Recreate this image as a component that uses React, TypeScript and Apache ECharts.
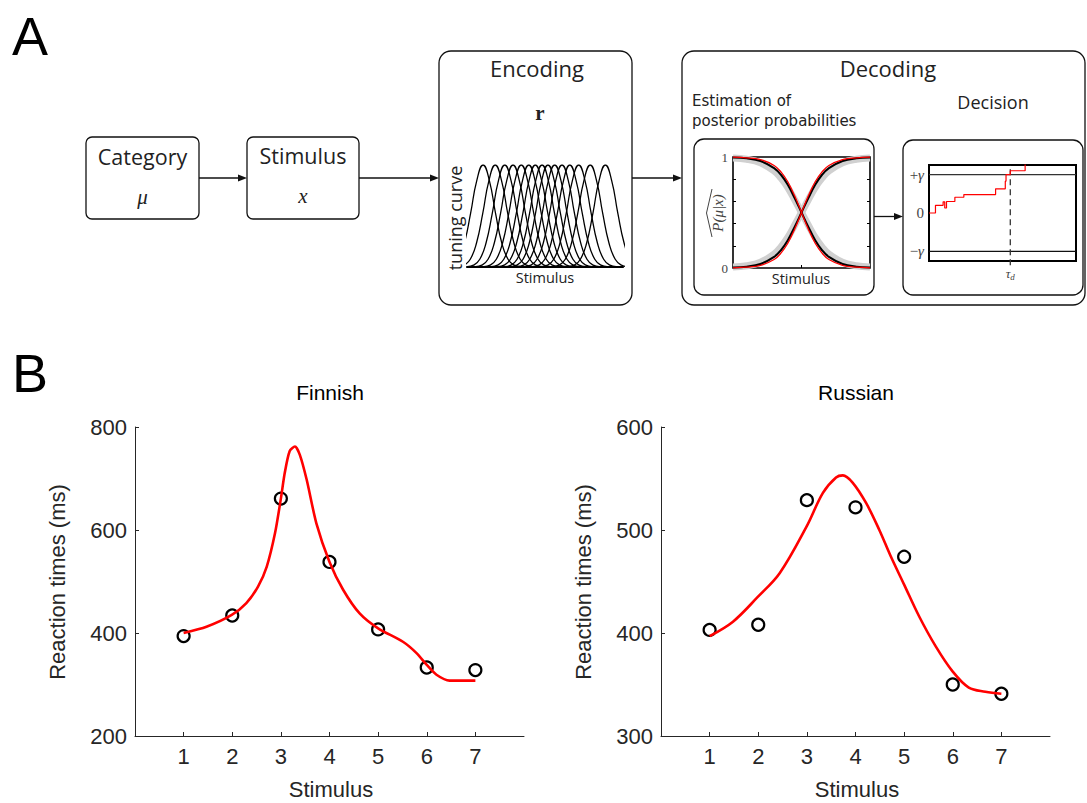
import { useEffect, useRef } from 'react';
import * as echarts from 'echarts';

// ---------- Panel B data ----------
const stimuli = [1, 2, 3, 4, 5, 6, 7];
const finnishRT = [394, 434, 661, 538, 407, 333, 328];
const russianRT = [403, 408, 529, 522, 474, 350, 341];
const finnishFitX = [1.0, 1.47, 1.99, 2.29, 2.53, 2.71, 2.88, 3.0, 3.08, 3.18, 3.29, 3.39, 3.53, 3.73, 4.0, 4.28, 4.62, 5.0, 5.51, 5.79, 6.0, 6.2, 6.47, 7.0];
const finnishFitY = [400, 412, 435, 458, 490, 529, 594, 661, 711, 753, 762, 746, 698, 613, 538, 484, 438, 409, 383, 361, 338, 319, 307.5, 307.5];
const russianFitX = [1.0, 1.48, 1.99, 2.44, 2.99, 3.33, 3.6, 3.74, 3.94, 4.22, 4.49, 4.72, 5.0, 5.31, 5.65, 6.0, 6.33, 6.67, 7.0];
const russianFitY = [397, 411, 435, 458, 503, 536, 551, 553, 546, 526, 500, 475, 447, 416, 387, 362.5, 347, 343, 341];
const finnishTicks = [200, 400, 600, 800];
const russianTicks = [300, 400, 500, 600];

// ---------- Panel A data ----------
const tuningCenters = [1.03, 1.81, 2.42, 2.95, 3.48, 3.96, 4.38, 4.81, 5.19, 5.62, 6.09, 6.59, 7.16, 7.9, 8.87];
const tuningOffsets = [-2.4, -2, -1.6, -1.2, -0.8, -0.4, 0, 0.4, 0.8, 1.2, 1.6, 2, 2.4];
const tuningShape = [0.003, 0.018, 0.076, 0.235, 0.525, 0.85, 1, 0.85, 0.525, 0.235, 0.076, 0.018, 0.003];

const postStim = [0, 1, 2, 3, 3.5, 4, 4.5, 5, 5.5, 6, 6.5, 7, 8, 9, 10];
const grayUp = [0.008, 0.02, 0.052, 0.125, 0.19, 0.275, 0.385, 0.5, 0.615, 0.725, 0.81, 0.875, 0.948, 0.98, 0.992];
const grayDown = [0.992, 0.98, 0.948, 0.875, 0.81, 0.725, 0.615, 0.5, 0.385, 0.275, 0.19, 0.125, 0.052, 0.02, 0.008];
const blackUp = [0.004, 0.012, 0.036, 0.1, 0.16, 0.25, 0.37, 0.5, 0.63, 0.75, 0.84, 0.9, 0.964, 0.988, 0.996];
const blackDown = [0.996, 0.988, 0.964, 0.9, 0.84, 0.75, 0.63, 0.5, 0.37, 0.25, 0.16, 0.1, 0.036, 0.012, 0.004];
const redUp = [0.002, 0.007, 0.023, 0.076, 0.134, 0.223, 0.35, 0.5, 0.65, 0.777, 0.866, 0.924, 0.977, 0.993, 0.998];
const redDown = [0.998, 0.993, 0.977, 0.924, 0.866, 0.777, 0.65, 0.5, 0.35, 0.223, 0.134, 0.076, 0.023, 0.007, 0.002];

const decisionT = [0, 4.4, 9.6, 10.7, 11.9, 17.6, 23.7, 45.3, 51.9, 52.4, 55.3, 65.4];
const decisionV = [0, 0.2, 0.29, 0.13, 0.3, 0.41, 0.48, 0.63, 0.83, 1.0, 1.1, 1.3];
const gamma = 1;
const tauD = 55.3;

const SANS_A = '"Open Sans", "Noto Sans", sans-serif';
const SANS_A2 = '"DejaVu Sans", "Open Sans", sans-serif';
const SERIF = '"Liberation Serif", "DejaVu Serif", serif';
const SANS_B = '"Liberation Sans", Arial, sans-serif';
const INK = '#222';
const INKB = '#262626';
const MATH = '#444';

function txt(text: string, x: number, y: number, font: string, extra: any = {}) {
  const style: any = {
    text,
    font,
    fill: extra.fill || INK,
    textAlign: extra.align || 'center',
    textVerticalAlign: extra.valign || 'middle',
  };
  return { type: 'text', x, y, rotation: extra.rotation || 0, style };
}

function box(x: number, y: number, w: number, h: number, r: number) {
  return {
    type: 'rect',
    shape: { x, y, width: w, height: h, r },
    style: { fill: 'none', stroke: '#111', lineWidth: 1.3 },
  };
}

function arrow(x1: number, x2: number, y: number) {
  return [
    { type: 'line', shape: { x1, y1: y, x2: x2 - 6, y2: y }, style: { stroke: '#111', lineWidth: 1.3 } },
    { type: 'polygon', shape: { points: [[x2, y], [x2 - 9, y - 3.5], [x2 - 9, y + 3.5]] }, style: { fill: '#111' } },
  ];
}

export default function App() {
  const ref = useRef<HTMLDivElement>(null);

  useEffect(() => {
    document.body.style.margin = '0';
    const chart = echarts.init(ref.current!, null, { renderer: 'svg' });

    const tuningSeries = tuningCenters.map((c) => ({
      type: 'line',
      xAxisIndex: 0,
      yAxisIndex: 0,
      data: tuningOffsets.map((d, i) => [c + d, tuningShape[i]]),
      smooth: true,
      showSymbol: false,
      symbol: 'none',
      lineStyle: { color: '#000', width: 1.3 },
      silent: true,
    }));

    const postLine = (vals: number[], color: string, width: number) => ({
      type: 'line',
      xAxisIndex: 1,
      yAxisIndex: 1,
      data: postStim.map((s, i) => [s, vals[i]]),
      smooth: 0.4,
      symbol: 'none',
      lineStyle: { color, width },
      clip: false,
      silent: true,
    });

    const axisOff = { show: false };
    const graphics: any[] = [
      txt('A', 30, 36, `54px ${SANS_B}`, { fill: '#000' }),
      txt('B', 30, 373, `54px ${SANS_B}`, { fill: '#000' }),
      box(86, 137, 113, 82, 6),
      box(247, 137, 112, 82, 6),
      box(439, 51, 193, 254, 12),
      box(682, 51, 403, 254, 12),
      box(694, 139, 180, 156, 10),
      box(903, 140, 180, 155, 10),
      ...arrow(199, 247, 178),
      ...arrow(359, 439, 178),
      ...arrow(632, 682, 178),
      ...arrow(874, 903, 216.5),
      txt('Category', 142.5, 156, `21.5px ${SANS_A}`),
      txt('μ', 142.5, 197, `italic 21px ${SERIF}`),
      txt('Stimulus', 303, 155, `21.5px ${SANS_A}`),
      txt('x', 303, 196, `italic 21px ${SERIF}`),
      txt('Encoding', 537, 68, `22px ${SANS_A}`),
      txt('r', 540, 113, `bold 21px ${SERIF}`),
      txt('tuning curve', 455, 218, `18px ${SANS_A}`, { rotation: Math.PI / 2 }),
      txt('Stimulus', 545, 277, `14.5px ${SANS_A}`),
      txt('Decoding', 888, 68, `22px ${SANS_A}`),
      txt('Estimation of', 692, 101, `15px ${SANS_A2}`, { align: 'left' }),
      txt('posterior probabilities', 692, 120.5, `15px ${SANS_A2}`, { align: 'left' }),
      txt('Decision', 993, 102, `18px ${SANS_A}`),
      txt('Stimulus', 801, 278, `14.5px ${SANS_A}`),
      txt('P(μ|x)', 718, 213, `italic 15px ${SERIF}`, { rotation: Math.PI / 2, fill: MATH }),
      {
        type: 'polyline',
        shape: { points: [[712, 237], [706.5, 213], [712, 189]] },
        style: { stroke: MATH, lineWidth: 1, fill: 'none' },
      },
      txt('Finnish', 330, 392, `21px ${SANS_B}`, { fill: '#000' }),
      txt('Russian', 856, 392, `21px ${SANS_B}`, { fill: '#000' }),
      txt('Reaction times (ms)', 57, 582, `22px ${SANS_B}`, { rotation: Math.PI / 2, fill: INKB }),
      txt('Reaction times (ms)', 583, 582, `22px ${SANS_B}`, { rotation: Math.PI / 2, fill: INKB }),
      txt('Stimulus', 331, 789, `22px ${SANS_B}`, { fill: INKB }),
      txt('Stimulus', 857, 789, `22px ${SANS_B}`, { fill: INKB }),
    ];

    const bAxisLabel = { fontSize: 22, fontFamily: SANS_B, color: INKB };

    const option: any = {
      animation: false,
      backgroundColor: '#fff',
      grid: [
        { left: 467, top: 165, width: 156, height: 102, outerBoundsMode: 'none' },
        { left: 733, top: 157, width: 137, height: 111, show: true, borderColor: '#000', borderWidth: 1.6, backgroundColor: 'transparent', outerBoundsMode: 'none' },
        { left: 929, top: 165, width: 147, height: 96, show: true, borderColor: '#000', borderWidth: 2, backgroundColor: 'transparent', outerBoundsMode: 'none' },
        { left: 135, top: 427, width: 389, height: 309, outerBoundsMode: 'none' },
        { left: 661, top: 427, width: 389, height: 309, outerBoundsMode: 'none' },
      ],
      xAxis: [
        {
          gridIndex: 0, type: 'value', min: 0, max: 10,
          axisLine: { show: true, lineStyle: { color: '#000', width: 2.2 } },
          axisTick: axisOff, axisLabel: axisOff, splitLine: axisOff,
        },
        {
          gridIndex: 1, type: 'value', min: 0, max: 10, interval: 5,
          axisLine: axisOff,
          axisTick: { show: true, inside: true, length: 3, customValues: [5], lineStyle: { color: '#000' } },
          axisLabel: axisOff, splitLine: axisOff,
        },
        {
          gridIndex: 2, type: 'value', min: 0, max: 100,
          axisLine: axisOff,
          axisTick: axisOff,
          axisLabel: {
            customValues: [tauD], margin: 5, color: MATH,
            formatter: () => '{t|τ}{s|d}',
            rich: {
              t: { fontFamily: SERIF, fontStyle: 'italic', fontSize: 13, color: MATH },
              s: { fontFamily: SERIF, fontStyle: 'italic', fontSize: 9, color: MATH, verticalAlign: 'bottom', padding: [6, 0, 0, 0] },
            },
          },
          splitLine: axisOff,
        },
        {
          gridIndex: 3, type: 'value', min: 0, max: 8, interval: 1,
          axisLine: { lineStyle: { color: INKB, width: 1 } },
          axisTick: { inside: true, length: 4, customValues: stimuli, lineStyle: { color: INKB } },
          axisLabel: { ...bAxisLabel, customValues: stimuli, margin: 9 },
          splitLine: axisOff,
        },
        {
          gridIndex: 4, type: 'value', min: 0, max: 8, interval: 1,
          axisLine: { lineStyle: { color: INKB, width: 1 } },
          axisTick: { inside: true, length: 4, customValues: stimuli, lineStyle: { color: INKB } },
          axisLabel: { ...bAxisLabel, customValues: stimuli, margin: 9 },
          splitLine: axisOff,
        },
      ],
      yAxis: [
        { gridIndex: 0, type: 'value', min: 0, max: 1, show: false },
        {
          gridIndex: 1, type: 'value', min: 0, max: 1, interval: 0.2,
          axisLine: axisOff,
          axisTick: { show: true, inside: true, length: 3, lineStyle: { color: '#000' } },
          axisLabel: { customValues: [0, 1], fontFamily: SERIF, fontSize: 13, color: MATH, margin: 5 },
          splitLine: axisOff,
        },
        {
          gridIndex: 1, type: 'value', min: 0, max: 1, interval: 0.2, position: 'right',
          axisLine: axisOff,
          axisTick: { show: true, inside: true, length: 3, lineStyle: { color: '#000' } },
          axisLabel: axisOff, splitLine: axisOff,
        },
        {
          gridIndex: 2, type: 'value', min: -1.25, max: 1.25,
          axisLine: axisOff,
          axisTick: axisOff,
          axisLabel: {
            customValues: [-gamma, 0, gamma], fontFamily: SERIF, fontSize: 15, color: MATH, margin: 5,
            formatter: (v: number) => (v > 0 ? '{n|+}{g|γ}' : v < 0 ? '{n|−}{g|γ}' : '{n|0}'),
            rich: {
              n: { fontFamily: SERIF, fontSize: 15, color: MATH },
              g: { fontFamily: SERIF, fontStyle: 'italic', fontSize: 15, color: MATH },
            },
          },
          splitLine: axisOff,
        },
        {
          gridIndex: 3, type: 'value', min: 200, max: 800, interval: 200,
          axisLine: { show: true, lineStyle: { color: INKB, width: 1 } },
          axisTick: { show: true, inside: true, length: 4, customValues: finnishTicks, lineStyle: { color: INKB } },
          axisLabel: { ...bAxisLabel, margin: 8 },
          splitLine: axisOff,
        },
        {
          gridIndex: 4, type: 'value', min: 300, max: 600, interval: 100,
          axisLine: { show: true, lineStyle: { color: INKB, width: 1 } },
          axisTick: { show: true, inside: true, length: 4, customValues: russianTicks, lineStyle: { color: INKB } },
          axisLabel: { ...bAxisLabel, margin: 8 },
          splitLine: axisOff,
        },
      ],
      series: [
        ...tuningSeries,
        postLine(grayUp, '#d0d0d0', 7),
        postLine(grayDown, '#d0d0d0', 7),
        postLine(blackUp, '#000', 2),
        postLine(blackDown, '#000', 2),
        postLine(redUp, '#ff0000', 1.3),
        postLine(redDown, '#ff0000', 1.3),
        {
          type: 'line', xAxisIndex: 2, yAxisIndex: 3, symbol: 'none', silent: true,
          data: [[0, gamma], [100, gamma]], lineStyle: { color: '#333', width: 1.4 },
        },
        {
          type: 'line', xAxisIndex: 2, yAxisIndex: 3, symbol: 'none', silent: true,
          data: [[0, -gamma], [100, -gamma]], lineStyle: { color: '#111', width: 1.4 },
        },
        {
          type: 'line', xAxisIndex: 2, yAxisIndex: 3, symbol: 'none', silent: true, clip: false,
          data: [[tauD, -1.36], [tauD, 1.25]], lineStyle: { color: '#333', width: 1.3, type: [6, 4] },
        },
        {
          type: 'line', xAxisIndex: 2, yAxisIndex: 3, symbol: 'none', silent: true, step: 'end',
          data: decisionT.map((t, i) => [t, decisionV[i]]), lineStyle: { color: '#ff0000', width: 1.2 },
        },
        {
          type: 'line', xAxisIndex: 3, yAxisIndex: 4, symbol: 'none', smooth: 0.25, silent: true,
          data: finnishFitX.map((x, i) => [x, finnishFitY[i]]), lineStyle: { color: '#ff0000', width: 2.6 },
        },
        {
          type: 'scatter', xAxisIndex: 3, yAxisIndex: 4, symbol: 'circle', symbolSize: 12, silent: true,
          data: stimuli.map((s, i) => [s, finnishRT[i]]),
          itemStyle: { color: 'rgba(0,0,0,0)', borderColor: '#000', borderWidth: 2.2, opacity: 1 },
        },
        {
          type: 'line', xAxisIndex: 4, yAxisIndex: 5, symbol: 'none', smooth: 0.35, silent: true,
          data: russianFitX.map((x, i) => [x, russianFitY[i]]), lineStyle: { color: '#ff0000', width: 2.6 },
        },
        {
          type: 'scatter', xAxisIndex: 4, yAxisIndex: 5, symbol: 'circle', symbolSize: 12, silent: true,
          data: stimuli.map((s, i) => [s, russianRT[i]]),
          itemStyle: { color: 'rgba(0,0,0,0)', borderColor: '#000', borderWidth: 2.2, opacity: 1 },
        },
      ],
      graphic: graphics,
    };

    chart.setOption(option);
    return () => chart.dispose();
  }, []);

  return <div ref={ref} style={{ position: 'absolute', left: 0, top: 0, width: 1087, height: 803 }} />;
}
